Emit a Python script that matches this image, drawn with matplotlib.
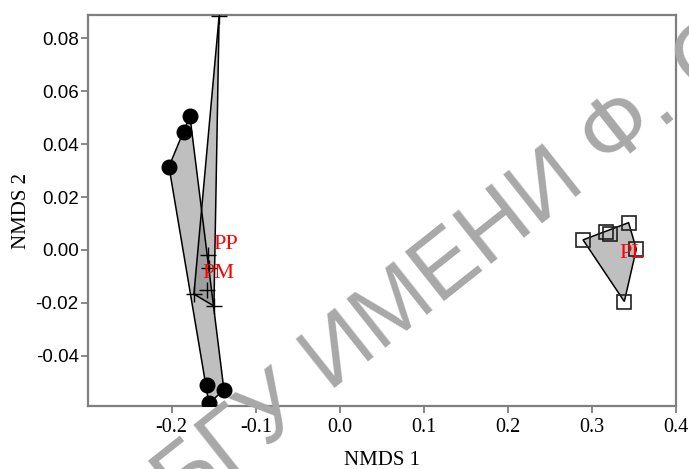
import numpy as np
import matplotlib
matplotlib.use('Agg')
import matplotlib.pyplot as plt
from matplotlib.patches import Polygon

plt.rcParams['axes.unicode_minus'] = False

# ---- data ----
circ_x = [-0.2033, -0.1855, -0.1784, -0.1577, -0.1379, -0.1558]
circ_y = [0.0315, 0.0447, 0.0506, -0.0510, -0.0529, -0.0580]
plus_x = [-0.1573, -0.1561, -0.1577, -0.1736, -0.1498, -0.1436]
plus_y = [-0.0019, -0.0068, -0.0151, -0.0167, -0.0212, 0.0885]
sq_x = [0.2894, 0.3171, 0.3219, 0.3436, 0.3528, 0.3385]
sq_y = [0.0038, 0.0067, 0.0059, 0.0103, 0.0003, -0.0195]
group_labels = ['PP', 'PM', 'PL']
label_x = [-0.1356, -0.1439, 0.3477]
label_y = [0.0022, -0.0088, -0.0013]
xticks = [-0.2, -0.1, 0.0, 0.1, 0.2, 0.3, 0.4]
yticks = [-0.04, -0.02, 0.00, 0.02, 0.04, 0.06, 0.08]
watermark_a = 'БГУ'
watermark_b = 'ИМЕНИ Ф. СКОРИНЫ'


def hull(xs, ys):
    pts = sorted(set(zip(xs, ys)))
    def cross(o, a, b):
        return (a[0]-o[0])*(b[1]-o[1]) - (a[1]-o[1])*(b[0]-o[0])
    lower, upper = [], []
    for p in pts:
        while len(lower) >= 2 and cross(lower[-2], lower[-1], p) <= 0:
            lower.pop()
        lower.append(p)
    for p in reversed(pts):
        while len(upper) >= 2 and cross(upper[-2], upper[-1], p) <= 0:
            upper.pop()
        upper.append(p)
    return np.array(lower[:-1] + upper[:-1])


W, H = 689, 469
fig = plt.figure(figsize=(W/100, H/100), dpi=100)
ax = fig.add_axes([87.7/W, 1-406/H, (676-87.7)/W, (406-15)/H])
ax.set_xlim(-0.3, 0.4)
ax.set_ylim(-0.0590, 0.0888)

for xs, ys in [(circ_x, circ_y), (plus_x, plus_y), (sq_x, sq_y)]:
    hp = hull(xs, ys)
    ax.add_patch(Polygon(hp, closed=True, facecolor='#808080', alpha=0.5,
                         edgecolor='none', zorder=1))
    ax.add_patch(Polygon(hp, closed=True, facecolor='none',
                         edgecolor='black', linewidth=1.1, zorder=2))

ax.plot(circ_x, circ_y, 'o', color='black', markersize=10.5, zorder=3)
ax.plot(plus_x, plus_y, '+', color='black', markersize=12,
        markeredgewidth=1.0, zorder=3)
ax.plot(sq_x, sq_y, 's', markerfacecolor='none', markeredgecolor='#202020',
        markersize=10.5, markeredgewidth=1.2, zorder=3)

for lab, lx, ly in zip(group_labels, label_x, label_y):
    ax.text(lx, ly, lab, color='red', fontsize=16, family='Liberation Serif',
            ha='center', va='center', zorder=4)

for s in ax.spines.values():
    s.set_color('#7f7f7f')
    s.set_linewidth(1.6)

ax.set_xticks(xticks)
ax.set_xticklabels([f'{v:.1f}' for v in xticks], family='Liberation Serif',
                   fontsize=14.5)
ax.set_yticks(yticks)
ax.set_yticklabels([f'{v:.2f}' for v in yticks], family='Liberation Sans',
                   fontsize=13.5)
ax.tick_params(axis='x', length=5, width=1.3, color='#7f7f7f', pad=4)
ax.tick_params(axis='y', length=5, width=1.3, color='#7f7f7f', pad=1.5)

fig.text(381.9/W, 1-460/H, 'NMDS 1', family='Liberation Serif', fontsize=15,
         ha='center', va='center')
fig.text(22/W, 1-210.5/H, 'NMDS 2', family='Liberation Serif', fontsize=15,
         ha='center', va='center', rotation=90)

# watermark
theta = 38.4
em = 90.0
fs = em*72/100
ang = np.deg2rad(theta)
ax0, ay0 = 329.0, 392.0
u = np.array([np.cos(ang), -np.sin(ang)])
sp = 0.278*em
bx, by = ax0 - u[0]*sp, ay0 - u[1]*sp
wm_kw = dict(family='Liberation Sans', fontsize=fs, color='#a8a8a8',
             rotation=theta, rotation_mode='anchor', va='baseline', zorder=10)
fig.text(ax0/W, 1-ay0/H, watermark_b, ha='left', **wm_kw)
fig.text(bx/W, 1-by/H, watermark_a, ha='right', **wm_kw)

fig.savefig('out.png', dpi=100)
